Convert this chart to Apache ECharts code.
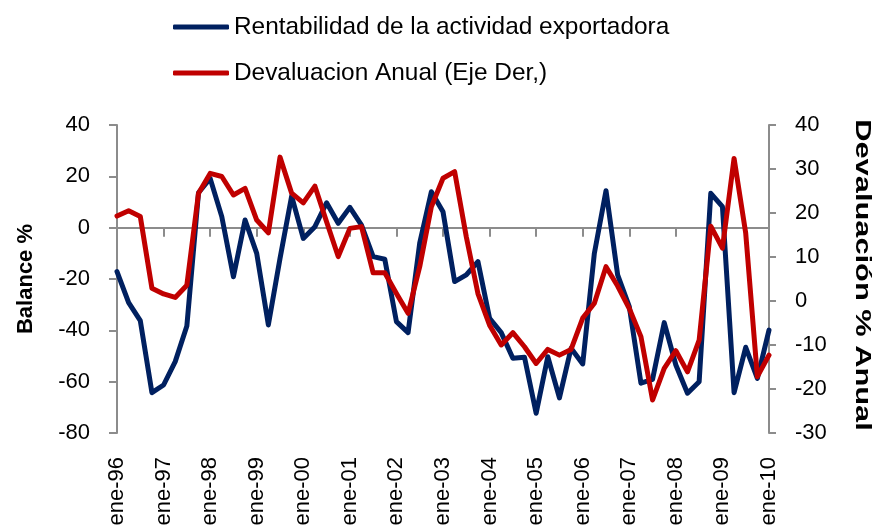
<!DOCTYPE html>
<html>
<head>
<meta charset="utf-8">
<script src="https://cdn.jsdelivr.net/npm/echarts@6/dist/echarts.min.js"></script>
<style>
html,body{margin:0;padding:0;background:#fff;}
#chart{width:874px;height:532px;}
</style>
</head>
<body>
<div id="chart"></div>
<script>
// Quarterly categories: ene-96 ... ene-10
var months = ['ene', 'abr', 'jul', 'oct'];
var years = ['96','97','98','99','00','01','02','03','04','05','06','07','08','09','10'];
var categories = [];
years.forEach(function (y, yi) {
  months.forEach(function (m, mi) {
    if (yi < years.length - 1 || mi === 0) categories.push(m + '-' + y);
  });
});

// Rentabilidad de la actividad exportadora (left axis, Balance %)
var rentabilidad = [
  -17.1, -29.2, -36.2, -64.3, -61.3, -52.2, -38.3, 13.6, 19.2, 4.3,
  -19.1, 3.0, -10.0, -37.9, -12.0, 12.3, -4.2, 0.4, 9.7, 1.7,
  7.9, 1.0, -11.3, -12.3, -36.6, -40.9, -6.0, 14.0, 6.2, -21.0,
  -18.4, -13.2, -35.3, -40.9, -50.9, -50.5, -72.3, -50.3, -66.3, -47.0,
  -53.1, -10.0, 14.4, -18.4, -30.8, -60.6, -59.1, -37.0, -53.5, -64.5,
  -60.0, 13.4, 8.2, -64.3, -46.6, -58.7, -39.9
];

// Devaluacion Anual (right axis)
var devaluacion = [
  19.3, 20.5, 19.2, 2.9, 1.6, 0.8, 3.6, 24.5, 29.0, 28.3,
  24.1, 25.6, 18.4, 15.5, 32.7, 24.5, 22.3, 26.1, 18.0, 10.1,
  16.5, 16.9, 6.4, 6.4, 1.7, -2.8, 7.8, 21.4, 27.9, 29.4,
  14.6, 1.7, -5.5, -10.0, -7.2, -10.4, -14.2, -11.0, -12.3, -11.0,
  -3.9, -0.5, 7.8, 3.4, -1.7, -8.1, -22.5, -15.3, -11.3, -16.1,
  -8.9, 17.0, 12.0, 32.4, 15.4, -17.2, -12.3
];

var seriesNames = ['Rentabilidad de la actividad exportadora', 'Devaluacion Anual (Eje Der,)'];
var leftTitle = 'Balance %';
var rightTitle = 'Devaluación % Anual';

var FONT = 'Liberation Sans';
var AXIS_COLOR = '#8c8c8c';

var chart = echarts.init(document.getElementById('chart'), null, {renderer: 'canvas'});
chart.setOption({
  animation: false,
  backgroundColor: '#fff',
  textStyle: {fontFamily: FONT, color: '#000'},
  legend: {
    orient: 'vertical',
    left: 173,
    top: 15,
    padding: 0,
    itemWidth: 56,
    itemHeight: 5,
    itemGap: 22,
    icon: 'roundRect',
    textStyle: {fontFamily: FONT, fontSize: 24.4, color: '#000'},
    data: seriesNames
  },
  grid: {left: 117, right: 105, top: 125, bottom: 99, containLabel: false},
  xAxis: [
    {
      type: 'category',
      data: categories,
      boundaryGap: false,
      position: 'bottom',
      axisLine: {show: false, onZero: false},
      axisTick: {show: false},
      axisLabel: {
        interval: 3,
        rotate: 90,
        margin: 24,
        fontFamily: FONT,
        fontSize: 22,
        color: '#000'
      },
      splitLine: {show: false}
    },
    {
      type: 'category',
      data: categories,
      boundaryGap: false,
      position: 'top',
      axisLine: {show: true, onZero: true, onZeroAxisIndex: 0, lineStyle: {color: AXIS_COLOR, width: 2}},
      axisTick: {show: true, inside: true, interval: 3, length: 9, lineStyle: {color: AXIS_COLOR, width: 2}},
      axisLabel: {show: false},
      splitLine: {show: false}
    }
  ],
  yAxis: [
    {
      type: 'value',
      min: -80, max: 40, interval: 20,
      position: 'left',
      name: leftTitle,
      nameLocation: 'middle',
      nameRotate: 90,
      nameGap: 80,
      nameTextStyle: {fontFamily: FONT, fontSize: 22, fontWeight: 'bold', color: '#000'},
      axisLine: {show: true, onZero: false, lineStyle: {color: AXIS_COLOR, width: 2}},
      axisTick: {show: true, length: 8, lineStyle: {color: AXIS_COLOR, width: 2}},
      axisLabel: {margin: 27, fontFamily: FONT, fontSize: 22, color: '#000'},
      splitLine: {show: false}
    },
    {
      type: 'value',
      min: -30, max: 40, interval: 10,
      position: 'right',
      axisLine: {show: true, onZero: false, lineStyle: {color: AXIS_COLOR, width: 2}},
      axisTick: {show: true, length: 7, lineStyle: {color: AXIS_COLOR, width: 2}},
      axisLabel: {margin: 26, fontFamily: FONT, fontSize: 22, color: '#000'},
      splitLine: {show: false}
    }
  ],
  graphic: [
    {
      type: 'text',
      x: 862,
      y: 275,
      rotation: -Math.PI / 2,
      scaleX: 1.4,
      style: {
        text: rightTitle,
        fontFamily: FONT,
        fontSize: 22,
        fontWeight: 'bold',
        fill: '#000',
        align: 'center',
        verticalAlign: 'middle'
      }
    }
  ],
  series: [
    {
      name: seriesNames[0],
      type: 'line',
      xAxisIndex: 0,
      yAxisIndex: 0,
      data: rentabilidad,
      symbol: 'none',
      lineStyle: {color: '#002060', width: 5, join: 'round', cap: 'round'},
      itemStyle: {color: '#002060'},
      z: 2
    },
    {
      name: seriesNames[1],
      type: 'line',
      xAxisIndex: 0,
      yAxisIndex: 1,
      data: devaluacion,
      symbol: 'none',
      lineStyle: {color: '#C00000', width: 5, join: 'round', cap: 'round'},
      itemStyle: {color: '#C00000'},
      z: 3
    }
  ]
});
</script>
</body>
</html>
